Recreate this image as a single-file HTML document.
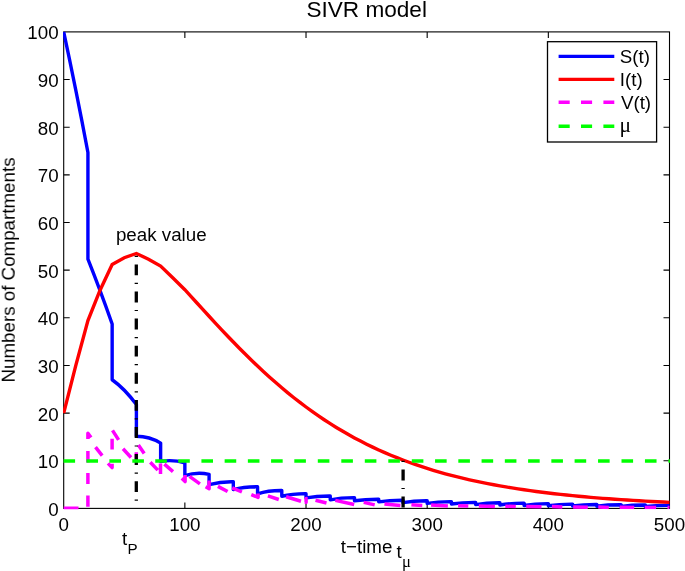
<!DOCTYPE html>
<html><head><meta charset="utf-8"><title>SIVR model</title>
<style>html,body{margin:0;padding:0;background:#fff;}svg{display:block;}.tx{opacity:0.999;}text{font-family:"Liberation Sans",sans-serif;fill:#000;}.sym{font-family:"Liberation Serif",serif;}</style></head><body>
<svg width="685" height="571" viewBox="0 0 685 571">
<rect x="0" y="0" width="685" height="571" fill="#fff"/>
<defs><clipPath id="ax"><rect x="63" y="31.2" width="607.2" height="478"/></clipPath></defs>
<g stroke="#000" stroke-width="1.1" fill="none" shape-rendering="auto">
<rect x="63.7" y="31.9" width="605.8" height="476.5"/>
<path d="M184.86 508.4 v-6 M184.86 31.9 v6"/>
<path d="M306.02 508.4 v-6 M306.02 31.9 v6"/>
<path d="M427.18 508.4 v-6 M427.18 31.9 v6"/>
<path d="M548.34 508.4 v-6 M548.34 31.9 v6"/>
<path d="M63.7 460.75 h6 M669.5 460.75 h-6"/>
<path d="M63.7 413.1 h6 M669.5 413.1 h-6"/>
<path d="M63.7 365.45 h6 M669.5 365.45 h-6"/>
<path d="M63.7 317.8 h6 M669.5 317.8 h-6"/>
<path d="M63.7 270.15 h6 M669.5 270.15 h-6"/>
<path d="M63.7 222.5 h6 M669.5 222.5 h-6"/>
<path d="M63.7 174.85 h6 M669.5 174.85 h-6"/>
<path d="M63.7 127.2 h6 M669.5 127.2 h-6"/>
<path d="M63.7 79.55 h6 M669.5 79.55 h-6"/>
</g>
<g clip-path="url(#ax)" fill="none" stroke-linejoin="miter" stroke-linecap="butt">
<path d="M63.7 31.9 Q75.82 88.37 87.93 152.45 L87.93 259.19 Q100.05 289.69 112.16 323.99 L112.16 379.75 Q124.28 388.32 136.4 404.52 L136.4 436.21 Q149.72 436.21 160.63 443.12 L160.63 461.46 Q172.74 459.32 184.86 462.89 L184.86 475.62 Q196.98 471.52 209.09 474.33 L209.09 484.57 Q221.21 481.43 233.32 481.72 L233.32 489.58 Q244.23 486.6 257.56 486.72 L257.56 493.87 Q268.46 490.4 281.79 490.53 L281.79 496.25 Q292.69 493.52 306.02 493.63 L306.02 497.92 Q316.92 495.93 330.25 496.01 L330.25 499.82 Q341.16 497.49 354.48 497.58 L354.48 500.78 Q365.39 499.19 378.72 499.25 L378.72 501.82 Q389.62 500.24 402.95 500.3 L402.95 502.68 Q413.85 500.7 427.18 500.78 L427.18 503.4 Q438.08 501.56 451.41 501.63 L451.41 504.02 Q462.32 502.28 475.64 502.35 L475.64 504.59 Q486.55 502.61 499.88 502.68 L499.88 504.97 Q510.78 503.09 524.11 503.16 L524.11 505.45 Q535.01 503.56 548.34 503.63 L548.34 505.73 Q559.24 504.05 572.57 504.11 L572.57 506.02 Q583.48 504.43 596.8 504.49 L596.8 506.21 Q607.71 504.72 621.04 504.78 L621.04 506.4 Q631.94 505.01 645.27 505.06 L645.27 506.54 Q656.17 505.35 669.5 505.4" stroke="#0000ff" stroke-width="3.4" stroke-linejoin="round"/>
<path d="M63.7 413.1 L75.82 365.45 L87.93 320.66 L100.05 290.16 L112.16 264.43 L124.28 257.76 L136.4 253.47 L148.51 259.19 L160.63 266.1 L172.74 277.77 L184.86 289.69 L190.92 296.33 L196.98 302.98 L203.03 309.63 L209.09 316.24 L215.15 322.8 L221.21 329.3 L227.27 335.71 L233.32 342.02 L239.38 348.22 L245.44 354.3 L251.5 360.24 L257.56 366.05 L263.61 371.72 L269.67 377.23 L275.73 382.59 L281.79 387.8 L287.85 392.84 L293.9 397.72 L299.96 402.45 L306.02 407.01 L312.08 411.41 L318.14 415.65 L324.19 419.73 L330.25 423.67 L336.31 427.44 L342.37 431.08 L348.43 434.56 L354.48 437.91 L360.54 441.11 L366.6 444.18 L372.66 447.13 L378.72 449.94 L384.77 452.64 L390.83 455.22 L396.89 457.68 L402.95 460.03 L409.01 462.28 L415.06 464.43 L421.12 466.48 L427.18 468.43 L433.24 470.3 L439.3 472.08 L445.35 473.78 L451.41 475.4 L457.47 476.94 L463.53 478.41 L469.59 479.81 L475.64 481.15 L481.7 482.42 L487.76 483.63 L493.82 484.79 L499.88 485.89 L505.93 486.94 L511.99 487.94 L518.05 488.89 L524.11 489.8 L530.17 490.66 L536.22 491.48 L542.28 492.27 L548.34 493.01 L554.4 493.72 L560.46 494.4 L566.51 495.05 L572.57 495.66 L578.63 496.25 L584.69 496.81 L590.75 497.34 L596.8 497.84 L602.86 498.33 L608.92 498.79 L614.98 499.23 L621.04 499.64 L627.09 500.04 L633.15 500.42 L639.21 500.78 L645.27 501.13 L651.33 501.46 L657.38 501.77 L663.44 502.07 L669.5 502.36" stroke="#ff0000" stroke-width="3.4"/>
<path d="M63.7 508.3 L78.5 508.3 M87.9 506.7 L87.9 495.6 M87.9 484.1 L87.9 473.1 M87.9 462.4 L87.9 451 M87.9 438.9 L87.9 433.3 L91 437.6 M95.5 447.1 L102.2 455.7 M108 463.4 L112.1 467.6 L112.1 463.8 M112.1 449.4 L112.1 438.7 M112.5 430.4 L118.6 439.9 M123 448.8 L131 457.5 M136.3 463 L136.3 452.3 M138.4 445 L144.2 453.6 M150.3 462.3 L157.8 470.1 M160.5 473.9 L160.5 463.4 M164.4 464.2 L173 471.6 M181.8 478.3 L185.1 481.6 L185.1 475 M189.5 476.3 L199.9 483.8 M205.6 486.8 L209.1 488.6 L209.1 480.5 M217.9 486.4 L227.6 491.5 M232.2 487.9 L241.9 492 M251.3 494.6 L258.1 497.4 L258.1 493.5 M267.9 495.9 L278.8 499.5 M286.1 496.8 L301 501.3 M304.8 502 L306.1 502.2 L306.1 498.5 L307.4 498.8 M315.5 500.2 L326.5 503 M335.3 500.4 L354.2 504.5 M363.7 502.4 L374.7 504.9 M384.4 504 L400.4 505.4 M411.4 504.7 L422.3 505.5 M431.1 505 L447.9 506.1 M458.1 505.7 L468.3 506.1 M478.8 505.9 L494.9 506.6 M505.3 506.2 L515.8 506.6 M526.2 506.4 L541.5 506.8 M551.9 506.6 L562.3 506.9 M573.2 506.9 L587.8 507.3 M598.3 507.1 L608.8 507.4 M619.7 507.2 L634.2 507.5 M644.7 507.4 L656.1 507.6 M667.5 507.5 L669.5 507.6" stroke="#ff00ff" stroke-width="3.5" stroke-linejoin="round"/>
<path d="M136.3 255.7 V256.9 M136.3 264.4 V275.3 M136.3 282.8 V284 M136.3 291.5 V302.4 M136.3 309.9 V311.1 M136.3 318.6 V329.5 M136.3 337 V338.2 M136.3 345.7 V356.6 M136.3 364.1 V365.3 M136.3 372.8 V383.7 M136.3 391.2 V392.4 M136.3 399.9 V410.8 M136.3 418.3 V419.5 M136.3 427 V437.9 M136.3 445.4 V446.6 M136.3 454.1 V465 M136.3 472.5 V473.7 M136.3 481.2 V492.1 M136.3 499.6 V500.8 M136.3 508.3 V508.4" stroke="#000" stroke-width="3.3"/>
<path d="M403.1 460.8 V462 M403.1 469.5 V480.4 M403.1 487.9 V489.1 M403.1 496.6 V507.5" stroke="#000" stroke-width="3.3"/>
<path d="M63.5 460.95 H75.1 M86.44 460.95 H98.04 M109.38 460.95 H120.98 M132.32 460.95 H143.92 M155.26 460.95 H166.86 M178.2 460.95 H189.8 M201.42 460.95 H213.02 M224.64 460.95 H236.24 M247.86 460.95 H259.46 M271.08 460.95 H282.68 M294.3 460.95 H305.9 M317.8 460.95 H329.4 M341.3 460.95 H352.9 M364.8 460.95 H376.4 M388.3 460.95 H399.9 M411.8 460.95 H423.4 M435.06 460.95 H446.66 M458.31 460.95 H469.91 M481.57 460.95 H493.17 M504.83 460.95 H516.43 M528.09 460.95 H539.69 M551.34 460.95 H562.94 M574.6 460.95 H586.2 M598.05 460.95 H609.65 M621.5 460.95 H633.1 M644.95 460.95 H656.55 M668.4 460.95 H670.1" stroke="#00ff00" stroke-width="3.5"/>
</g>
<rect x="547.5" y="41.7" width="109.1" height="100.3" fill="#fff" stroke="#000" stroke-width="1.3"/>
<g fill="none" stroke-width="3.4">
<path d="M558.6 56.4 H614.3" stroke="#0000ff"/>
<path d="M558.6 79.4 H614.3" stroke="#ff0000"/>
<path d="M558.6 102.3 H614.3" stroke="#ff00ff" stroke-dasharray="11.1 11.3"/>
<path d="M558.6 126.3 H614.3" stroke="#00ff00" stroke-dasharray="11.1 11.3"/>
</g>
<g class="tx">
<text x="63.7" y="530.5" font-size="18.75" text-anchor="middle">0</text>
<text x="184.86" y="530.5" font-size="18.75" text-anchor="middle">100</text>
<text x="306.02" y="530.5" font-size="18.75" text-anchor="middle">200</text>
<text x="427.18" y="530.5" font-size="18.75" text-anchor="middle">300</text>
<text x="548.34" y="530.5" font-size="18.75" text-anchor="middle">400</text>
<text x="669.5" y="530.5" font-size="18.75" text-anchor="middle">500</text>
<text x="58.6" y="515.8" font-size="18.75" text-anchor="end">0</text>
<text x="58.6" y="468.15" font-size="18.75" text-anchor="end">10</text>
<text x="58.6" y="420.5" font-size="18.75" text-anchor="end">20</text>
<text x="58.6" y="372.85" font-size="18.75" text-anchor="end">30</text>
<text x="58.6" y="325.2" font-size="18.75" text-anchor="end">40</text>
<text x="58.6" y="277.55" font-size="18.75" text-anchor="end">50</text>
<text x="58.6" y="229.9" font-size="18.75" text-anchor="end">60</text>
<text x="58.6" y="182.25" font-size="18.75" text-anchor="end">70</text>
<text x="58.6" y="134.6" font-size="18.75" text-anchor="end">80</text>
<text x="58.6" y="86.95" font-size="18.75" text-anchor="end">90</text>
<text x="58.6" y="39.3" font-size="18.75" text-anchor="end">100</text>
<text x="366.7" y="16.8" font-size="22.6" text-anchor="middle">SIVR model</text>
<text x="366.6" y="553.4" font-size="18.75" text-anchor="middle">t−time</text>
<text transform="translate(14.7 270.0) rotate(-90)" font-size="18.75" text-anchor="middle">Numbers of Compartments</text>
<text x="115.9" y="240.8" font-size="18.75">peak value</text>
<text x="121.9" y="545.2" font-size="18.75">t</text>
<text x="127.5" y="553.8" font-size="15.2">P</text>
<text x="396.6" y="558.0" font-size="18.75">t</text>
<text class="sym" x="402.0" y="567.2" font-size="16.6">μ</text>
<text x="619.8" y="63.0" font-size="18.75">S(t)</text>
<text x="619.8" y="86.0" font-size="18.75">I(t)</text>
<text x="620.9" y="108.6" font-size="18.75">V(t)</text>
<text class="sym" x="619.6" y="132.4" font-size="21.5">μ</text>
</g>
</svg></body></html>
